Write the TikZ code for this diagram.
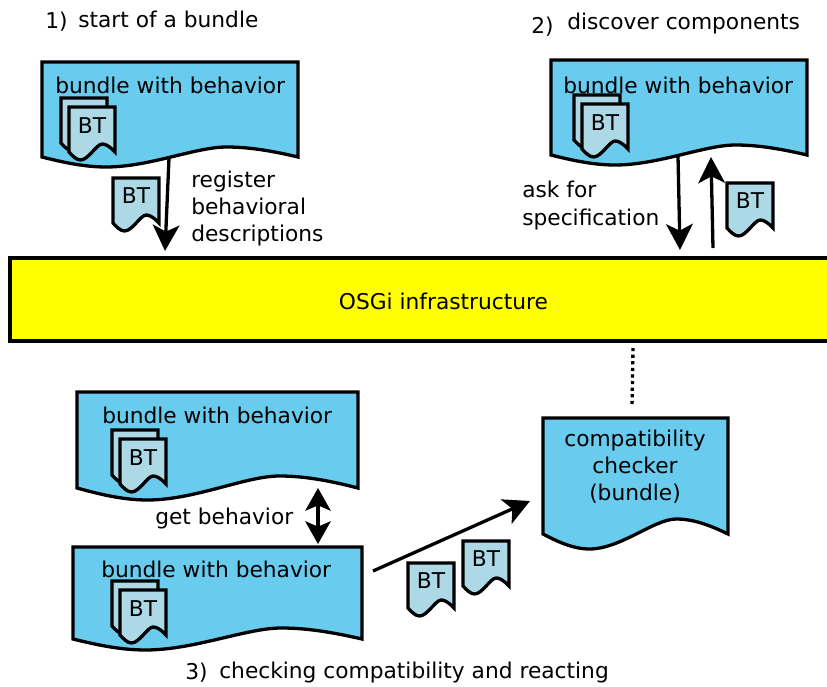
\documentclass[tikz,border=0pt]{standalone}
\usepackage{fontspec}
\setmainfont{DejaVu Sans}
\usetikzlibrary{arrows.meta}
\definecolor{bundleblue}{HTML}{69CCEE}
\definecolor{btblue}{HTML}{ADD8E6}
\definecolor{infra}{HTML}{FFFF00}
\newcommand\wavedoc[6]{%
  \pgfmathsetmacro\xa{#1}\pgfmathsetmacro\xb{#1+#3}
  \pgfmathsetmacro\yb{#2+#4}
  \pgfmathsetmacro\yc{#2+#4-#5}\pgfmathsetmacro\yt{#2+#4+#5}
  \pgfmathsetmacro\xc{#1+.72*#3}\pgfmathsetmacro\xt{#1+.25*#3}
  \pgfmathsetmacro\xcr{#1+.86*#3}\pgfmathsetmacro\xcl{#1+.60*#3}
  \pgfmathsetmacro\xtr{#1+.42*#3}\pgfmathsetmacro\xtl{#1+.07*#3}
  \pgfmathsetmacro\ytl{#2+#4+.45*#5}\pgfmathsetmacro\ycr{#2+#4-.85*#5}
  \pgfmathsetmacro\xtt{#1+.16*#3}
  \draw[#6] (\xa,#2) -- (\xb,#2) -- (\xb,\yb)
    .. controls (\xcr,\ycr) and (\xc+.06*#3,\yc) .. (\xc,\yc)
    .. controls (\xcl,\yc) and (\xtr,\yt) .. (\xt,\yt)
    .. controls (\xtt,\yt) and (\xtl,\ytl) .. (\xa,\yb) -- cycle;}
% single BT document: name, x, y
\newcommand\btdoc[3]{%
  \wavedoc{#2}{#3}{46}{45}{8}{btshape}
  \node[lab,anchor=base] (#1) at (#2+23,#3+25) {BT};}
% stacked BT documents: name, x, y of the back sheet
\newcommand\btstack[3]{%
  \wavedoc{#2}{#3}{46}{45}{8}{btshape}
  \wavedoc{#2+8}{#3+9}{46}{45}{8}{btshape}
  \node[lab,anchor=base] (#1) at (#2+31,#3+35) {BT};}
\tikzset{
  lab/.style={font=\fontsize{16.3}{19}\selectfont,inner sep=0pt,text=black},
  btshape/.style={draw=black,fill=btblue,line width=3.3*.75pt,miter limit=10},
  bundleshape/.style={draw=black,fill=bundleblue,line width=3.3*.75pt,miter limit=10},
  flow/.style={draw=black,line width=3.3*.75pt,-{Stealth[length=19.5pt,width=20pt,inset=5pt]}},
  flowboth/.style={draw=black,line width=3.3*.75pt,{Stealth[length=17pt,width=19pt,inset=4pt]}-{Stealth[length=17pt,width=19pt,inset=4pt]}},
  dots/.style={draw=black,line width=3.3*.75pt,dash pattern=on 3.2*.75pt off 3.4*.75pt},
}
\begin{document}
\begin{tikzpicture}[x=.75pt,y=-.75pt]
\useasboundingbox (0,0) rectangle (827,686);
% titles
\node[lab,anchor=base west] (n1) at (45,28) {1)};
\node[lab,anchor=base west] (t1) at (78,27) {start of a bundle};
\node[lab,anchor=base west] (n2) at (531,33) {2)};
\node[lab,anchor=base west] (t2) at (567,29) {discover components};
\node[lab,anchor=base west] (n3) at (185,679) {3)};
\node[lab,anchor=base west] (t3) at (219,678) {checking compatibility and reacting};
% infrastructure
\node[draw=black,fill=infra,line width=3.3*.75pt,outer sep=0pt,minimum width=830*.75pt,minimum height=83*.75pt,anchor=north west,inner sep=0pt] (osgi) at (10,258) {};
\node[lab,anchor=base] (osgilabel) at (443.5,309) {OSGi infrastructure};
% bundle 1
\wavedoc{42}{62}{256}{95}{10}{bundleshape}
\node[lab,anchor=base west] (b1) at (55,93) {bundle with behavior};
\btstack{s1}{61}{98}
% bundle 2
\wavedoc{551}{60}{256}{95}{10}{bundleshape}
\node[lab,anchor=base west] (b2) at (563,93) {bundle with behavior};
\btstack{s2}{574}{95}
% bundle 3
\wavedoc{77}{392}{281}{96}{12}{bundleshape}
\node[lab,anchor=base west] (b3) at (102,423) {bundle with behavior};
\btstack{s3}{112}{430}
% bundle 4
\wavedoc{73}{547}{289}{92}{11}{bundleshape}
\node[lab,anchor=base west] (b4) at (101,577) {bundle with behavior};
\btstack{s4}{112}{581}
% checker
\wavedoc{543}{418}{185}{116}{15}{bundleshape}
\node[lab,anchor=base] (c1) at (635,446) {compatibility};
\node[lab,anchor=base] (c2) at (635,473) {checker};
\node[lab,anchor=base] (c3) at (635,500) {(bundle)};
% single BTs
\btdoc{d1}{113}{178}
\btdoc{d2}{727}{183}
\btdoc{d3}{408}{563}
\btdoc{d4}{463}{541}
% labels
\node[lab,anchor=base west] (r1) at (191,187) {register};
\node[lab,anchor=base west] (r2) at (191,214) {behavioral};
\node[lab,anchor=base west] (r3) at (191,241) {descriptions};
\node[lab,anchor=base west] (a1) at (522,197) {ask for};
\node[lab,anchor=base west] (a2) at (522,225) {specification};
\node[lab,anchor=base west] (g1) at (155,524) {get behavior};
% connector ends
\coordinate (e1s) at (169,158); \coordinate (e1t) at (165,251);
\coordinate (e2s) at (678,156); \coordinate (e2t) at (680,250);
\coordinate (e3s) at (713,248); \coordinate (e3t) at (711,157);
\coordinate (e4s) at (318,488); \coordinate (e4t) at (318,544);
\coordinate (e5s) at (373,571); \coordinate (e5t) at (530,501);
\coordinate (e6s) at (633,348); \coordinate (e6t) at (632,407);
\draw[flow] (e1s) -- (e1t);
\draw[flow] (e2s) -- (e2t);
\draw[flow] (e3s) -- (e3t);
\draw[flowboth] (e4s) -- (e4t);
\draw[flow] (e5s) -- (e5t);
\draw[dots] (e6s) -- (e6t);
\end{tikzpicture}
\end{document}
